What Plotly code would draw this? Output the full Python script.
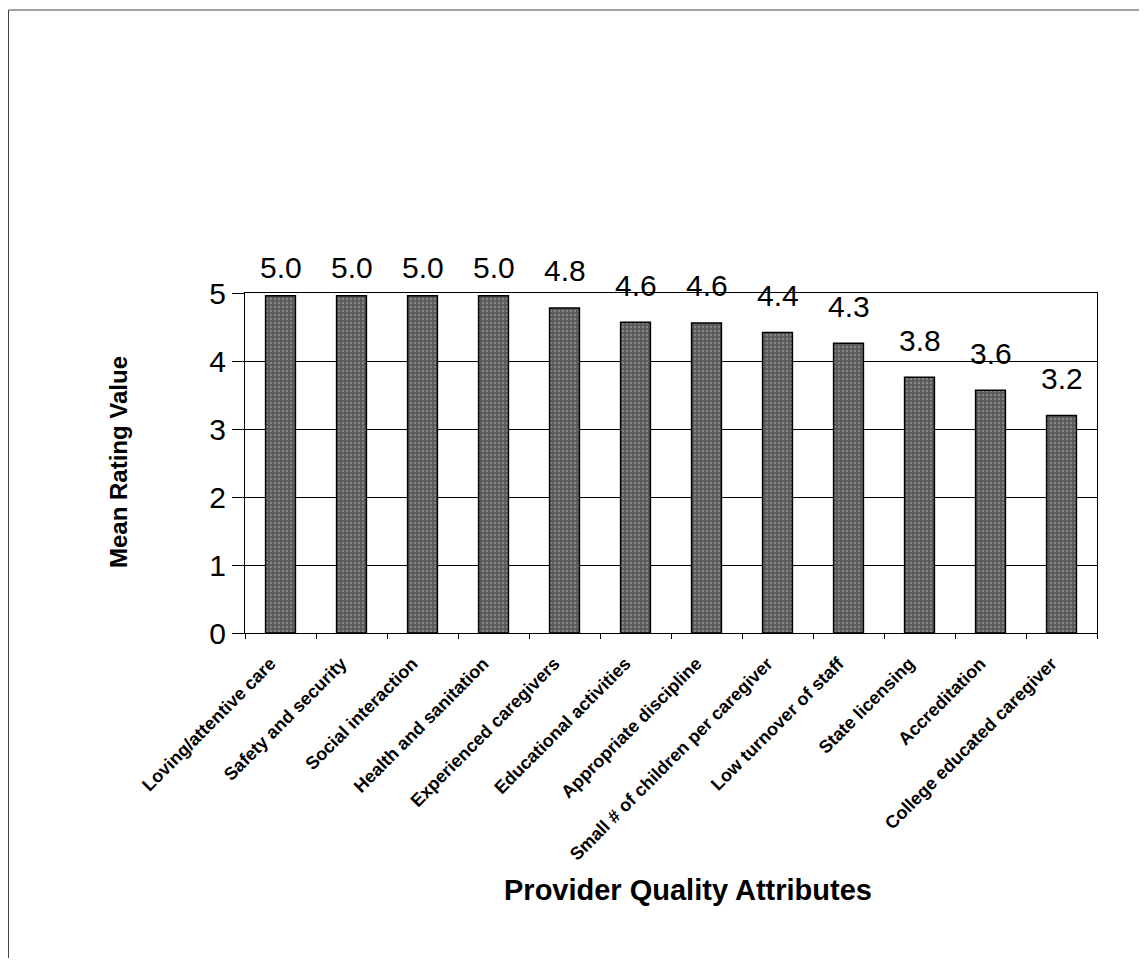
import plotly.graph_objects as go

categories = [
    "Loving/attentive care",
    "Safety and security",
    "Social interaction",
    "Health and sanitation",
    "Experienced caregivers",
    "Educational activities",
    "Appropriate discipline",
    "Small # of children per caregiver",
    "Low turnover of staff",
    "State licensing",
    "Accreditation",
    "College educated caregiver",
]
mean_rating = [4.96, 4.96, 4.96, 4.96, 4.78, 4.57, 4.56, 4.42, 4.26, 3.76, 3.57, 3.2]
y_ticks = [0, 1, 2, 3, 4, 5]

FONT = "Liberation Sans, Arial, sans-serif"

fig = go.Figure()
fig.add_trace(go.Bar(
    x=categories,
    y=mean_rating,
    cliponaxis=False,
    marker=dict(
        color="#5a5a5a",
        line=dict(color="black", width=1.5),
        pattern=dict(shape=".", fgcolor="#adadad", bgcolor="#5a5a5a", size=4, solidity=0.3),
    ),
    showlegend=False,
))

# the page body has an 8px margin, so the figure is offset by 8px
OFF = 8
W, H = 1139, 952
L, R, T, B = 245 - OFF, 50, 293 - OFF, 327
pw = W - L - R
ph = H - T - B

def px_x(x):
    return (x - OFF - L) / pw

def px_y(y):
    return (T + ph - (y - OFF)) / ph

value_labels = [
    dict(x=c, y=v, xref="x", yref="y", text=f"{v:.1f}", showarrow=False,
         yshift=(28 if v > 4.9 else 37), xanchor="center", yanchor="middle",
         font=dict(family=FONT, size=30, color="black"))
    for c, v in zip(categories, mean_rating)
]

fig.update_layout(
    width=W, height=H,
    margin=dict(l=L, r=R, t=T, b=B, autoexpand=False),
    paper_bgcolor="white",
    plot_bgcolor="white",
    bargap=0.58,
    font=dict(family=FONT, color="black"),
    xaxis=dict(
        showline=True, linecolor="black", linewidth=1, mirror=True,
        ticks="outside", tickson="boundaries", ticklen=5, tickcolor="black",
        tickangle=-45,
        ticklabelstandoff=12,
        ticklabelshift=-10,
        tickfont=dict(family=FONT, size=18, color="black", weight="bold"),
        showgrid=False,
    ),
    yaxis=dict(
        range=[0, 5],
        tickvals=y_ticks,
        showline=True, linecolor="black", linewidth=1, mirror=True,
        ticks="outside", ticklen=12, tickcolor="black",
        tickfont=dict(family=FONT, size=30, color="black"),
        showgrid=True, gridcolor="black", gridwidth=1,
        zeroline=False,
    ),
    annotations=value_labels + [
        dict(text="<b>Provider Quality Attributes</b>", xref="paper", yref="paper",
             x=px_x(688), y=px_y(890), showarrow=False,
             font=dict(family=FONT, size=29, color="black"),
             xanchor="center", yanchor="middle"),
        dict(text="<b>Mean Rating Value</b>", xref="paper", yref="paper",
             x=px_x(118), y=px_y(462), showarrow=False, textangle=-90,
             font=dict(family=FONT, size=24, color="black"),
             xanchor="center", yanchor="middle"),
    ],
    shapes=[
        dict(type="line", xref="paper", yref="paper",
             x0=px_x(8.5), x1=px_x(1147), y0=px_y(10), y1=px_y(10),
             line=dict(color="#444", width=1)),
        dict(type="line", xref="paper", yref="paper",
             x0=px_x(8.5), x1=px_x(8.5), y0=px_y(10), y1=px_y(958),
             line=dict(color="#444", width=1)),
    ],
)

fig.write_html("out.html")
